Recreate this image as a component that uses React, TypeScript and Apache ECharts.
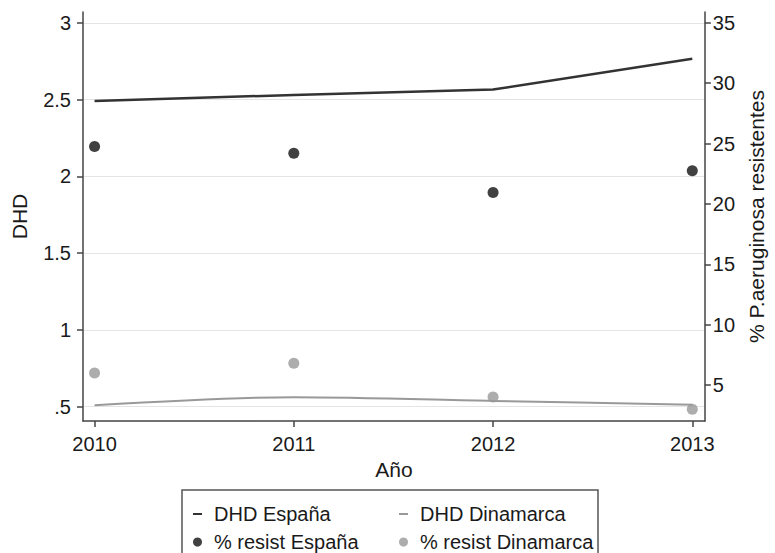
import React, { useEffect, useRef } from "react";
import * as echarts from "echarts";

const years = [2010, 2011, 2012, 2013];
const dhdEspana = [2.49, 2.53, 2.565, 2.765];
const dhdDinamarca = [0.51, 0.562, 0.538, 0.512];
const resistEspana = [24.75, 24.2, 20.95, 22.75];
const resistDinamarca = [6.0, 6.8, 4.0, 3.0];

const leftTicks = [0.5, 1, 1.5, 2, 2.5, 3];
const leftTickLabels = [".5", "1", "1.5", "2", "2.5", "3"];
const rightTicks = [5, 10, 15, 20, 25, 30, 35];

const FONT = "'Liberation Sans', Arial, Helvetica, sans-serif";

export default function App() {
  const ref = useRef<HTMLDivElement>(null);
  useEffect(() => {
    if (!ref.current) return;
    const chart = echarts.init(ref.current, null, { renderer: "svg" });
    const axisColor = "#444";
    const tickText = { color: "#1a1a1a", fontSize: 20, fontFamily: FONT };
    const legendBase = {
      orient: "horizontal",
      itemGap: 0,
      textStyle: { color: "#1a1a1a", fontSize: 20, fontFamily: FONT, padding: [0, 0, 0, 7] },
      selectedMode: false,
    };
    chart.setOption({
      animation: false,
      backgroundColor: "#fff",
      grid: { left: 83, right: 62, top: 12, bottom: 132, containLabel: false },
      xAxis: {
        type: "value",
        min: 2009.942,
        max: 2013.063,
        name: "Año",
        nameLocation: "middle",
        nameGap: 35,
        nameTextStyle: { color: "#1a1a1a", fontSize: 21, fontFamily: FONT },
        axisLine: { show: true, lineStyle: { color: axisColor, width: 1.5 } },
        axisTick: { show: true, length: 6, lineStyle: { color: axisColor, width: 1.5 }, customValues: years },
        axisLabel: { ...tickText, margin: 13, customValues: years, formatter: (v: number) => String(v) },
        splitLine: { show: false },
      },
      yAxis: [
        {
          type: "value",
          position: "left",
          min: 0.407,
          max: 3.07,
          name: "DHD",
          nameLocation: "middle",
          nameGap: 53,
          nameRotate: 90,
          nameTextStyle: { color: "#1a1a1a", fontSize: 21, fontFamily: FONT },
          axisLine: { show: true, lineStyle: { color: axisColor, width: 1.5 } },
          axisTick: { show: true, length: 6, lineStyle: { color: axisColor, width: 1.5 }, customValues: leftTicks },
          axisLabel: {
            ...tickText,
            margin: 12,
            customValues: leftTicks,
            formatter: (v: number) => {
              const i = leftTicks.findIndex((t) => Math.abs(t - v) < 1e-6);
              return i >= 0 ? leftTickLabels[i] : "";
            },
          },
          splitLine: { show: true, lineStyle: { color: "#e4e4e4", width: 1.2 } },
        },
        {
          type: "value",
          position: "right",
          min: 2.02,
          max: 35.9,
          name: "% P.aeruginosa resistentes",
          nameLocation: "middle",
          nameGap: 39,
          nameRotate: 90,
          nameTextStyle: { color: "#1a1a1a", fontSize: 21, fontFamily: FONT },
          axisLine: { show: true, lineStyle: { color: axisColor, width: 1.5 } },
          axisTick: { show: true, length: 6, lineStyle: { color: axisColor, width: 1.5 }, customValues: rightTicks },
          axisLabel: { ...tickText, margin: 8, customValues: rightTicks, formatter: (v: number) => String(v) },
          splitLine: { show: false },
        },
      ],
      legend: [
        { ...legendBase, left: 188, top: 499, icon: "rect", itemWidth: 9, itemHeight: 2, data: ["DHD España"] },
        { ...legendBase, left: 394, top: 499, icon: "rect", itemWidth: 9, itemHeight: 2, data: ["DHD Dinamarca"] },
        { ...legendBase, left: 188, top: 527, icon: "circle", itemWidth: 9, itemHeight: 9, data: ["% resist España"] },
        { ...legendBase, left: 394, top: 527, icon: "circle", itemWidth: 9, itemHeight: 9, data: ["% resist Dinamarca"] },
      ],
      graphic: [
        {
          type: "rect",
          shape: { x: 182, y: 490, width: 416, height: 80 },
          style: { fill: "none", stroke: "#555", lineWidth: 1.5 },
          silent: true,
        },
      ],
      series: [
        {
          name: "DHD España",
          type: "line",
          yAxisIndex: 0,
          data: years.map((y, i) => [y, dhdEspana[i]]),
          showSymbol: false,
          symbol: "none",
          lineStyle: { color: "#333", width: 2.5 },
          itemStyle: { color: "#333" },
        },
        {
          name: "DHD Dinamarca",
          type: "line",
          yAxisIndex: 0,
          data: years.map((y, i) => [y, dhdDinamarca[i]]),
          showSymbol: false,
          symbol: "none",
          smooth: 0.3,
          lineStyle: { color: "#999", width: 2 },
          itemStyle: { color: "#999" },
        },
        {
          name: "% resist España",
          type: "scatter",
          yAxisIndex: 1,
          data: years.map((y, i) => [y, resistEspana[i]]),
          symbol: "circle",
          symbolSize: 11,
          itemStyle: { color: "#111" },
        },
        {
          name: "% resist Dinamarca",
          type: "scatter",
          yAxisIndex: 1,
          data: years.map((y, i) => [y, resistDinamarca[i]]),
          symbol: "circle",
          symbolSize: 11,
          itemStyle: { color: "#999" },
        },
      ],
    });
    return () => chart.dispose();
  }, []);
  return <div ref={ref} style={{ width: 775, height: 553, position: "absolute", left: 0, top: 0 }} />;
}
